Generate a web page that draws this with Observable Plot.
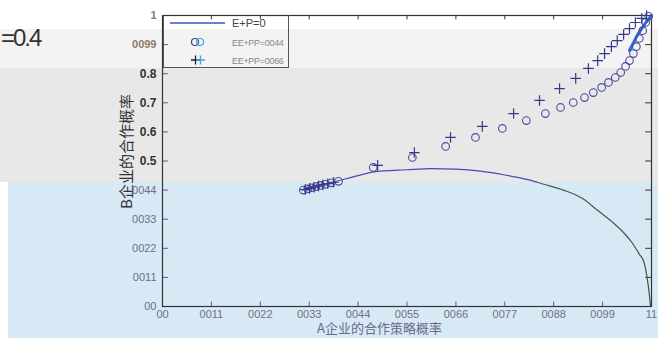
<!DOCTYPE html>
<html><head><meta charset="utf-8">
<script src="https://cdn.jsdelivr.net/npm/d3@7"></script>
<script src="https://cdn.jsdelivr.net/npm/@observablehq/plot@0.6"></script>
<style>
body{margin:0;width:658px;height:338px;overflow:hidden;font-family:"Liberation Sans",Arial,sans-serif;}
#wrap{position:relative;width:658px;height:338px;}
.bg{position:absolute;}
#chart{position:absolute;left:0;top:0;}
.lab{position:absolute;font-family:"Noto Sans CJK SC",sans-serif;white-space:nowrap;}
</style></head>
<body><div id="wrap">
<div class="bg" style="left:0;top:0;width:658px;height:29px;background:#ffffff"></div>
<div class="bg" style="left:0;top:29px;width:658px;height:39px;background:#f3f3f3"></div>
<div class="bg" style="left:0;top:68px;width:658px;height:114px;background:#e8e8e8"></div>
<div class="bg" style="left:0;top:182px;width:8px;height:156px;background:#ffffff"></div>
<div class="bg" style="left:8px;top:182px;width:650px;height:156px;background:#d6e9f5"></div>
<div class="lab" style="left:1px;top:24px;font-family:'Liberation Sans',sans-serif;font-size:24px;color:#333;letter-spacing:-2px">=0.4</div>
<div class="lab" style="left:65px;top:141px;font-size:15px;color:#333;transform:rotate(-90deg);transform-origin:center;width:120px;text-align:center;">B企业的合作概率</div>
<div class="lab" style="left:317px;top:318px;font-size:13px;color:#6a6a8a;">A企业的合作策略概率</div>
<div id="chart"></div>
<div class="bg" style="left:163px;top:15px;width:124px;height:52px;border:1px solid #555;border-top:none;background:transparent"></div>
<svg class="bg" style="left:163px;top:15px" width="140" height="53">
  <line x1="7" x2="62" y1="8" y2="8" stroke="#3a55c0" stroke-width="1.5"/>
  <text x="69" y="12" font-size="11" fill="#444">E+P=0</text>
  <circle cx="32" cy="27" r="3.5" fill="none" stroke="#3a3f9a" stroke-width="1.2"/>
  <circle cx="37" cy="27" r="3.5" fill="none" stroke="#3aa8e0" stroke-width="1.2"/>
  <text x="69" y="31" font-size="9" fill="#888" letter-spacing="-0.3">EE+PP=0044</text>
  <path d="M28,45h9M32.5,40.5v9" stroke="#222" stroke-width="1.3"/>
  <path d="M33,45h9M37.5,40.5v9" stroke="#3aa8e0" stroke-width="1.3"/>
  <text x="69" y="49" font-size="9" fill="#888" letter-spacing="-0.3">EE+PP=0066</text>
</svg>
</div>
<script>
// Solid line E+P=0
const lineX = [0.285,0.30,0.345,0.40,0.43,0.50,0.55,0.60,0.65,0.70,0.75,0.78,0.82,0.86,0.89,0.92,0.945,0.96,0.975,0.985,0.99,0.995,0.998];
const lineY = [0.400,0.410,0.426,0.450,0.462,0.470,0.474,0.472,0.465,0.452,0.435,0.420,0.400,0.370,0.330,0.290,0.250,0.220,0.180,0.150,0.110,0.050,0.000];
// thick blue tip near (1,1)
const tipX = [0.955,0.972,0.988,1.0];
const tipY = [0.880,0.935,0.975,1.0];
// circles series EE+PP=0.44
const circX = [0.288,0.297,0.305,0.314,0.323,0.333,0.345,0.360,0.431,0.511,0.579,0.640,0.695,0.744,0.783,0.814,0.840,0.863,0.881,0.898,0.912,0.926,0.937,0.947,0.955,0.963,0.969,0.975,0.982,0.988,0.994];
const circY = [0.400,0.404,0.408,0.412,0.416,0.420,0.425,0.430,0.478,0.512,0.550,0.581,0.612,0.639,0.663,0.684,0.701,0.718,0.735,0.753,0.770,0.787,0.804,0.825,0.845,0.869,0.893,0.921,0.948,0.976,0.997];
// plus series EE+PP=0.66
const plusX = [0.292,0.301,0.310,0.319,0.328,0.338,0.350,0.440,0.515,0.589,0.654,0.718,0.771,0.812,0.845,0.871,0.890,0.904,0.918,0.930,0.943,0.955,0.967,0.980,0.990];
const plusY = [0.402,0.406,0.410,0.414,0.418,0.422,0.427,0.485,0.529,0.581,0.619,0.663,0.708,0.749,0.784,0.818,0.845,0.869,0.893,0.914,0.935,0.955,0.976,0.990,1.000];
// ticks
const xTicks = [0,0.1,0.2,0.3,0.4,0.5,0.6,0.7,0.8,0.9,1];
const xTickLabels = ["00","0011","0022","0033","0044","0055","0066","0077","0088","0099","11"];
const yTicksLow = [0,0.1,0.2,0.3,0.4];
const yTickLabelsLow = ["00","0011","0022","0033","0044"];
const yTicksHigh = [0.5,0.6,0.7,0.8];
const yTickLabelsHigh = ["0.5","0.6","0.7","0.8"];
const yTicksTop = [0.9,1];
const yTickLabelsTop = ["0099","1"];

const lineData = lineX.map((x,i)=>({x, y: lineY[i]}));
const tipData = tipX.map((x,i)=>({x, y: tipY[i]}));
const circData = circX.map((x,i)=>({x, y: circY[i]}));
const plusData = plusX.map((x,i)=>({x, y: plusY[i]}));
const allY = [...yTicksLow, ...yTicksHigh, ...yTicksTop];
const lab = (ticks, labels) => d => labels[ticks.indexOf(d)] ?? "";

const plot = Plot.plot({
  width: 658, height: 338,
  marginLeft: 162, marginRight: 7, marginTop: 15, marginBottom: 32,
  style: {background: "transparent", fontFamily: "Liberation Sans, Arial, sans-serif"},
  x: {domain: [0,1]},
  y: {domain: [0,1]},
  marks: [
    Plot.axisX(xTicks, {tickSize: 0, tickPadding: 4, tickFormat: lab(xTicks, xTickLabels), fill: "#707088", fontSize: 11, label: null}),
    Plot.axisY(yTicksLow, {tickSize: 0, tickPadding: 6, tickFormat: lab(yTicksLow, yTickLabelsLow), fill: "#707080", fontSize: 11, label: null}),
    Plot.axisY(yTicksHigh, {tickSize: 0, tickPadding: 6, tickFormat: lab(yTicksHigh, yTickLabelsHigh), fill: "#333", fontSize: 12, fontWeight: "bold", label: null}),
    Plot.axisY(yTicksTop, {tickSize: 0, tickPadding: 6, tickFormat: lab(yTicksTop, yTickLabelsTop), fill: "#8a7a6a", fontSize: 11, fontWeight: "bold", label: null}),
    Plot.ruleX(xTicks.slice(1,-1), {x: d=>d, y1: 0, y2: 0.015, stroke: "#6a4aa0"}),
    Plot.ruleX(xTicks.slice(1,-1), {x: d=>d, y1: 0.985, y2: 1, stroke: "#333"}),
    Plot.ruleY(allY, {y: d=>d, x1: 0, x2: 0.012, stroke: "#6a4aa0"}),
    Plot.ruleY(allY, {y: d=>d, x1: 0.988, x2: 1, stroke: "#333"}),
    Plot.frame({stroke: "#333", strokeWidth: 1.2}),
    Plot.line(lineData, {x: "x", y: "y", stroke: "url(#lg)", strokeWidth: 1.2, curve: "monotone-x"}),
    Plot.line(tipData, {x: "x", y: "y", stroke: "#2a6ad0", strokeWidth: 3}),
    Plot.dot(circData, {x: "x", y: "y", r: 3.8, stroke: "#4a4aa0", strokeWidth: 1.1, fill: "none"}),
    Plot.dot(plusData, {x: "x", y: "y", r: 3.5, symbol: "plus", stroke: "#38388a", strokeWidth: 1.2})
  ]
});
const ns = "http://www.w3.org/2000/svg";
const defs = document.createElementNS(ns, "defs");
defs.innerHTML = '<linearGradient id="lg" gradientUnits="userSpaceOnUse" x1="0" y1="0" x2="0" y2="338"><stop offset="0.535" stop-color="#4a4ab0"/><stop offset="0.545" stop-color="#4a5a4a"/><stop offset="1" stop-color="#3a4a3a"/></linearGradient>';
plot.insertBefore(defs, plot.firstChild);
document.getElementById("chart").appendChild(plot);
</script>
</body></html>
